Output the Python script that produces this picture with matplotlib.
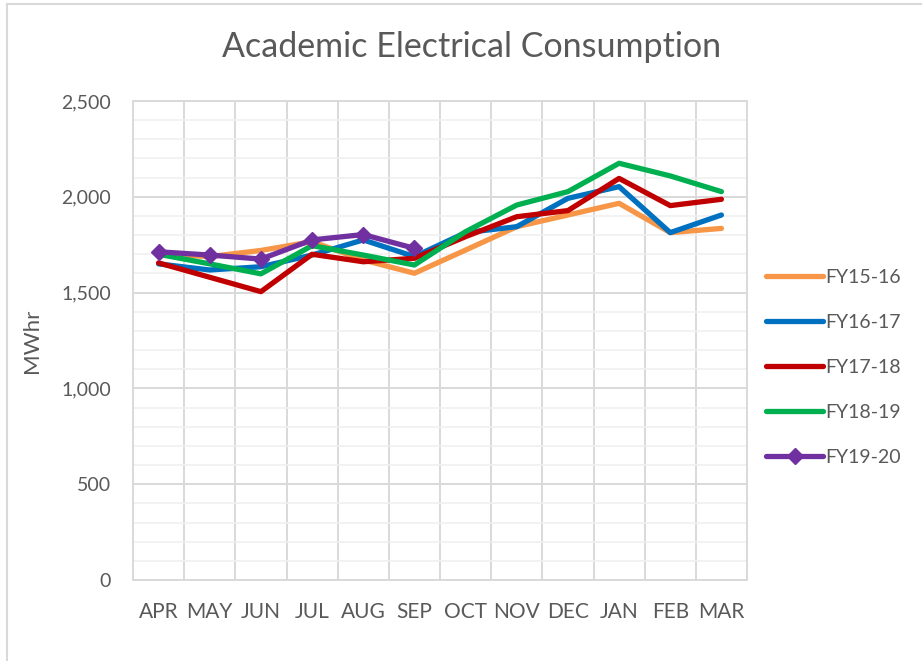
import numpy as np
import matplotlib
matplotlib.use("Agg")
import matplotlib.pyplot as plt
from matplotlib.lines import Line2D

months = ["APR", "MAY", "JUN", "JUL", "AUG", "SEP", "OCT", "NOV", "DEC", "JAN", "FEB", "MAR"]

# MWhr per month
fy15_16 = [1700, 1688, 1720, 1766, 1670, 1601, 1722, 1844, 1905, 1966, 1813, 1835]
fy16_17 = [1650, 1618, 1635, 1696, 1775, 1688, 1813, 1844, 1992, 2053, 1813, 1905]
fy17_18 = [1655, 1580, 1505, 1700, 1661, 1679, 1792, 1896, 1928, 2096, 1954, 1987]
fy18_19 = [1700, 1650, 1598, 1745, 1696, 1644, 1818, 1957, 2027, 2175, 2109, 2027]
fy19_20 = [1713, 1696, 1675, 1775, 1803, 1731]

plt.rcParams['font.family'] = ['Lato', 'DejaVu Sans']
text_col = '#595959'
grid_col = '#d9d9d9'

fig = plt.figure(figsize=(9.22, 6.61), dpi=100)
ax = fig.add_axes([133 / 922, 1 - 580 / 661, 614 / 922, 479 / 661])

x = np.arange(len(months))
ax.plot(x, fy15_16, color='#F79646', lw=3.8, label='FY15-16', solid_capstyle='round')
ax.plot(x, fy16_17, color='#0070C0', lw=3.8, label='FY16-17', solid_capstyle='round')
ax.plot(x, fy17_18, color='#C00000', lw=3.8, label='FY17-18', solid_capstyle='round')
ax.plot(x, fy18_19, color='#00B050', lw=3.8, label='FY18-19', solid_capstyle='round')
ax.plot(x[:len(fy19_20)], fy19_20, color='#7030A0', lw=3.8, marker='D', markersize=8,
        label='FY19-20', solid_capstyle='round')

ax.set_xlim(-0.5, 11.5)
ax.set_ylim(0, 2500)
ax.set_xticks(x)
ax.set_xticklabels(months)
ax.set_xticks(np.arange(0.5, 11), minor=True)
ax.set_yticks(np.arange(0, 2501, 500))
ax.set_yticklabels([f"{v:,}" for v in range(0, 2501, 500)])
ax.set_yticks(np.arange(0, 2501, 100), minor=True)

ax.grid(axis='y', which='minor', color='#f0f0f0', lw=1.2)
ax.grid(axis='y', which='major', color=grid_col, lw=1.4)
ax.grid(axis='x', which='minor', color=grid_col, lw=1.4)
ax.set_axisbelow(True)
ax.tick_params(which='both', length=0)
ax.tick_params(axis='y', pad=16, labelsize=14, labelcolor=text_col)
ax.tick_params(axis='x', pad=16, labelsize=15, labelcolor=text_col)
for s in ax.spines.values():
    s.set_color(grid_col)
    s.set_linewidth(1.4)

ax.set_ylabel('MWhr', fontsize=16, color=text_col, labelpad=14)
fig.text(472 / 922, 1 - 47 / 661, 'Academic Electrical Consumption', ha='center', va='center',
         fontsize=24.5, color=text_col)

ax.legend(loc='center left', bbox_to_anchor=(1.003, 0.443), frameon=False, fontsize=14,
          labelcolor=text_col, handlelength=2.9, handletextpad=0.15, labelspacing=1.44)

# chart area border (left and top visible)
fig.add_artist(Line2D([7 / 922, 7 / 922], [0, 1 - 4 / 661], color=grid_col, lw=1.5))
fig.add_artist(Line2D([7 / 922, 1], [1 - 4 / 661, 1 - 4 / 661], color=grid_col, lw=1.5))

fig.savefig('out.png', dpi=100, facecolor='white')
